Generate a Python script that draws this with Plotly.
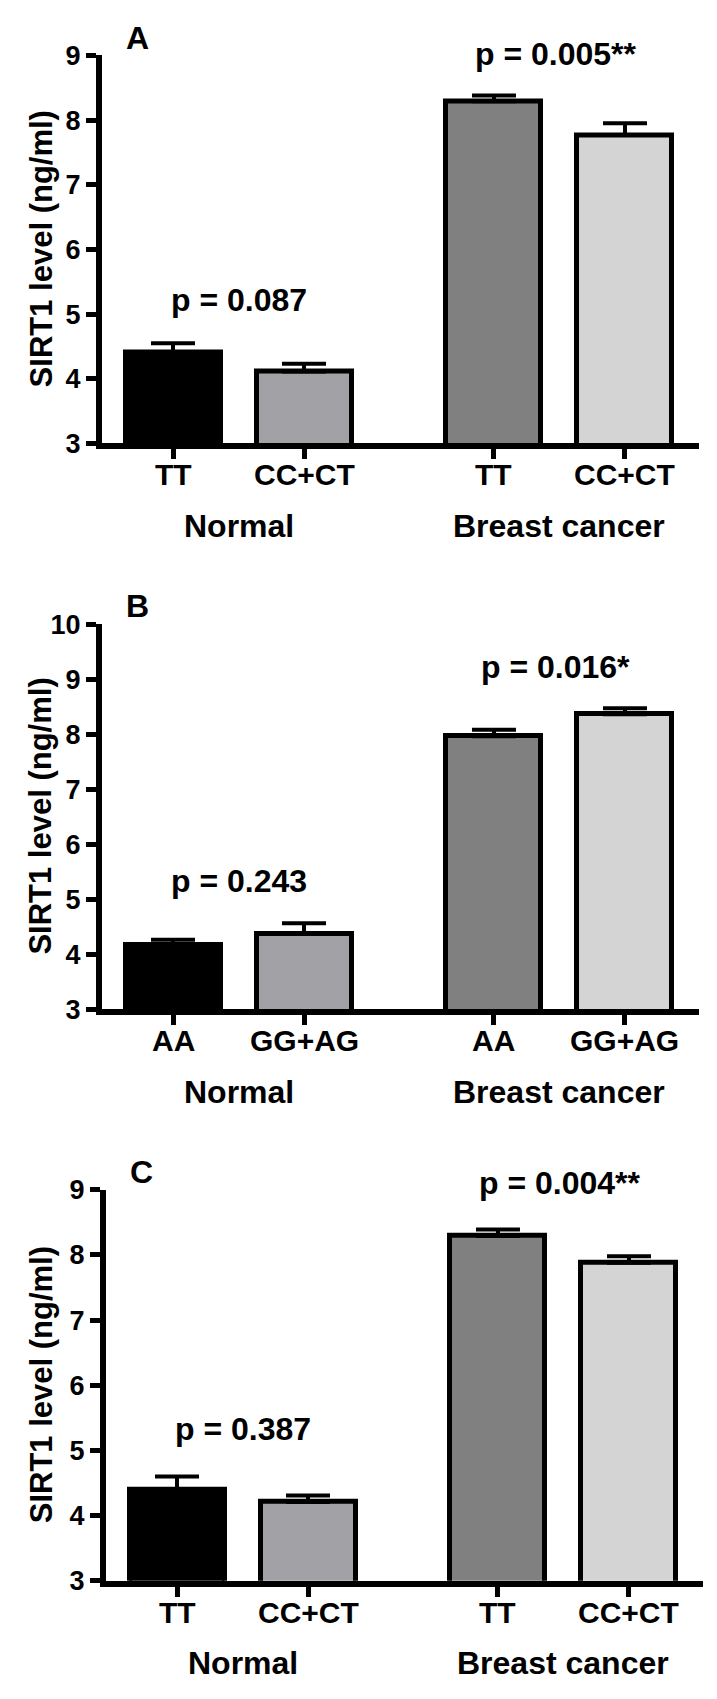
import plotly.graph_objects as go

# values (mean SIRT1 level, ng/ml, and upper error)
groups = ['Normal', 'Breast cancer']
panel_letters = ['A', 'B', 'C']
genotypes_a = ['TT', 'CC+CT', 'TT', 'CC+CT']
genotypes_b = ['AA', 'GG+AG', 'AA', 'GG+AG']
genotypes_c = ['TT', 'CC+CT', 'TT', 'CC+CT']

mean_a = [4.41, 4.11, 8.29, 7.77]
err_a = [0.14, 0.12, 0.09, 0.18]
mean_b = [4.16, 4.37, 7.96, 8.36]
err_b = [0.10, 0.19, 0.12, 0.11]
mean_c = [4.39, 4.21, 8.29, 7.88]
err_c = [0.21, 0.10, 0.10, 0.10]

pvals_normal = ['p = 0.087', 'p = 0.243', 'p = 0.387']
pvals_cancer = ['p = 0.005**', 'p = 0.016*', 'p = 0.004**']

colors = ['#000000', '#a2a2a6', '#808080', '#d4d4d4']
FONT = 'Liberation Sans, Arial, sans-serif'

# the page body keeps its default 8px margin, so the figure is made that much
# smaller and every pixel position below is shifted by it
OFF = 8
W, H = 717 - 2 * OFF, 1699 - 2 * OFF

# bar positions: two genotypes per group, groups spaced a bit further apart
gap = 2.45
xpos = [0, 1, gap, gap + 1]
group_mid = [0.5, gap + 0.5]

# pixel layout of each panel (top/base of y axis, x extent, p-label rows)
panels = [
    dict(gen=genotypes_a, mean=mean_a, err=err_a, top=41, base=436, ymax=9,
         xdom=(102, 699), py=(290, 40)),
    dict(gen=genotypes_b, mean=mean_b, err=err_b, top=620, base=1012, ymax=10,
         xdom=(102, 699), py=(882, 664)),
    dict(gen=genotypes_c, mean=mean_c, err=err_c, top=1196, base=1594, ymax=9,
         xdom=(106, 703), py=(1440, 1189)),
]


def px_x(x):
    return (x - OFF) / W


def px_y(y):
    return 1 - (y - OFF) / H


def ann(text, x, y, size, xref='paper', angle=0):
    return dict(text=text, xref=xref, yref='paper', x=x, y=px_y(y),
                xanchor='center', yanchor='middle', showarrow=False,
                textangle=angle,
                font=dict(family=FONT, size=size, color='black', weight='bold'))


fig = go.Figure()
annotations = []
for i, p in enumerate(panels):
    n = '' if i == 0 else str(i + 1)
    fig.add_trace(go.Bar(
        x=xpos, y=p['mean'], width=0.725,
        marker=dict(color=colors, line=dict(color='black', width=5)),
        error_y=dict(type='data', symmetric=False, array=p['err'],
                     arrayminus=[0] * 4, color='black', thickness=4, width=22),
        xaxis='x' + n, yaxis='y' + n, showlegend=False,
    ))
    xd = [px_x(p['xdom'][0]), px_x(p['xdom'][1])]
    yd = [px_y(p['base']), px_y(p['top'])]
    fig.update_layout({
        'xaxis' + n: dict(
            domain=xd, anchor='y' + n, range=[-0.542, 4.015],
            tickvals=xpos, showticklabels=False, ticks='outside', ticklen=10,
            tickwidth=5, tickcolor='black', showline=True, linewidth=6,
            linecolor='black', showgrid=False, zeroline=False,
        ),
        'yaxis' + n: dict(
            domain=yd, anchor='x' + n, range=[3, p['ymax']], dtick=1,
            ticks='outside', ticklen=10, tickwidth=5, tickcolor='black',
            showline=True, linewidth=6, linecolor='black', showgrid=False,
            zeroline=False,
            tickfont=dict(family=FONT, size=27, color='black', weight='bold'),
        ),
    })
    annotations.append(ann(panel_letters[i], px_x(p['xdom'][0] + 35), p['top'] - 18, 32))
    annotations.append(ann('SIRT1 level (ng/ml)', px_x(41), (p['top'] + p['base']) / 2, 31,
                           angle=-90))
    for k, g in enumerate(p['gen']):
        annotations.append(ann(g, xpos[k], p['base'] + 32, 30, xref='x' + n))
    for g, gm in enumerate(group_mid):
        annotations.append(ann(groups[g], gm, p['base'] + 84, 32, xref='x' + n))
    annotations.append(ann(pvals_normal[i], group_mid[0], p['py'][0], 32, xref='x' + n))
    annotations.append(ann(pvals_cancer[i], group_mid[1] - 0.03, p['py'][1], 32,
                           xref='x' + n))

fig.update_layout(
    width=W, height=H,
    margin=dict(l=0, r=0, t=0, b=0),
    plot_bgcolor='white', paper_bgcolor='white',
    annotations=annotations,
    bargap=0,
)

fig.write_html("out.html")
